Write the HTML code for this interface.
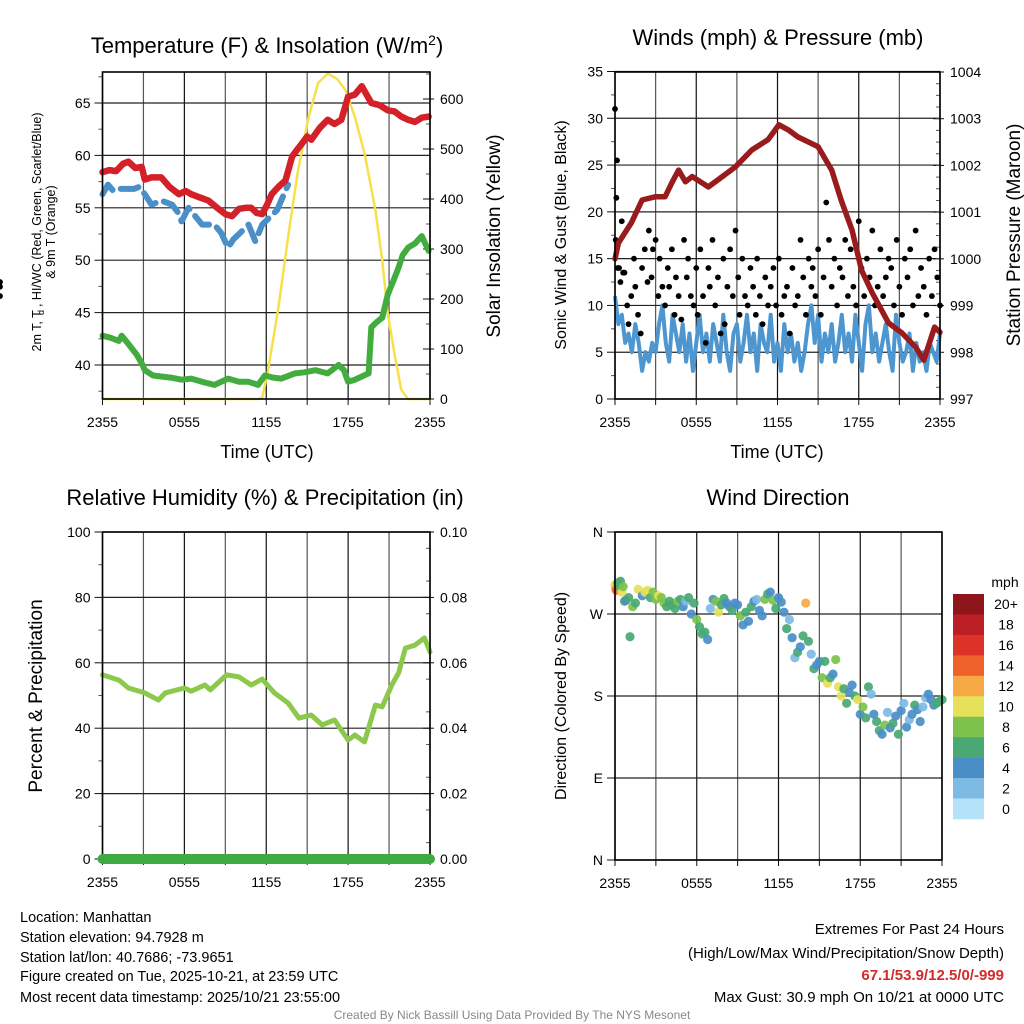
<!DOCTYPE html>
<html><head><meta charset="utf-8">
<style>
html,body{margin:0;padding:0;background:#fff;overflow:hidden;}
svg{display:block;font-family:"Liberation Sans",Arial,sans-serif;}
</style></head>
<body>
<svg id="fig" width="1024" height="1024" viewBox="0 0 1024 1024" xmlns="http://www.w3.org/2000/svg">
<g id="g1"></g>
<g id="g2"></g>
<g id="g3"></g>
<g id="g4"></g>
<text x="267" y="53" font-size="22" text-anchor="middle">Temperature (F) &amp; Insolation (W/m<tspan baseline-shift="super" font-size="14">2</tspan>)</text>
<text x="778" y="45" font-size="22" text-anchor="middle">Winds (mph) &amp; Pressure (mb)</text>
<text x="265" y="505" font-size="22" text-anchor="middle">Relative Humidity (%) &amp; Precipitation (in)</text>
<text x="778" y="505" font-size="22" text-anchor="middle">Wind Direction</text>
<text x="267" y="458" font-size="18" text-anchor="middle">Time (UTC)</text>
<text x="777" y="458" font-size="18" text-anchor="middle">Time (UTC)</text>
<g transform="translate(41,232) rotate(-90)">
<text x="0" y="0" font-size="12.5" text-anchor="middle">2m T, T  , HI/WC (Red, Green, Scarlet/Blue)</text>
<text x="-83" y="3" font-size="9">d</text>
</g>
<text transform="translate(55,232) rotate(-90)" font-size="12.5" text-anchor="middle">&amp; 9m T (Orange)</text>
<text transform="translate(500,236) rotate(-90)" font-size="19" text-anchor="middle">Solar Insolation (Yellow)</text>
<text transform="translate(566,235) rotate(-90)" font-size="16" text-anchor="middle">Sonic Wind &amp; Gust (Blue, Black)</text>
<text transform="translate(1020,235) rotate(-90)" font-size="19" text-anchor="middle">Station Pressure (Maroon)</text>
<text transform="translate(42,696) rotate(-90)" font-size="19" text-anchor="middle">Percent &amp; Precipitation</text>
<text transform="translate(566,696) rotate(-90)" font-size="16" text-anchor="middle">Direction (Colored By Speed)</text>
<text x="1005" y="587" font-size="14" text-anchor="middle">mph</text>
<g font-size="14.5">
<text x="20" y="922">Location: Manhattan</text>
<text x="20" y="942">Station elevation: 94.7928 m</text>
<text x="20" y="962">Station lat/lon: 40.7686; -73.9651</text>
<text x="20" y="981">Figure created on Tue, 2025-10-21, at 23:59 UTC</text>
<text x="20" y="1002">Most recent data timestamp: 2025/10/21 23:55:00</text>
</g>
<g font-size="15" text-anchor="end">
<text x="1004" y="934">Extremes For Past 24 Hours</text>
<text x="1004" y="958">(High/Low/Max Wind/Precipitation/Snow Depth)</text>
<text x="1004" y="980" fill="#d42a2a" font-weight="bold">67.1/53.9/12.5/0/-999</text>
<text x="1004" y="1002">Max Gust: 30.9 mph On 10/21 at 0000 UTC</text>
</g>
<text x="512" y="1019" font-size="12" fill="#888" text-anchor="middle">Created By Nick Bassill Using Data Provided By The NYS Mesonet</text>
</svg>
<script>
// ---------- data ----------
const xTickLabels = ["2355","0555","1155","1755","2355"];
const xTickHours = [0,6,12,18,24];
// Temperature (F)
const tempHours = [0,0.5,1.0,1.5,1.9,2.4,2.87,3.1,3.6,4.3,4.9,5.6,6.1,6.5,7.1,7.75,8.4,9.0,9.5,10.0,10.5,10.9,11.3,11.7,12.1,12.4,12.9,13.4,13.9,14.3,14.6,15.0,15.3,15.9,16.5,17.0,17.5,18.0,18.5,19.0,19.4,19.7,20.3,20.9,21.4,21.9,22.4,22.9,23.4,23.9];
const tempVals  = [58.4,58.6,58.5,59.2,59.4,58.8,58.9,57.7,57.9,57.9,57.0,56.3,56.6,56.3,56.0,55.7,55.0,54.4,54.2,54.9,55.0,55.0,54.5,54.4,55.4,56.3,57.0,57.6,59.9,60.6,61.1,61.8,61.5,62.6,63.4,63.0,63.4,65.6,65.8,66.6,65.7,65.0,64.8,64.3,64.2,63.7,63.4,63.2,63.6,63.7];
// Wind chill / HI (scarlet/blue)
const wcHours = [0,0.4,0.8,1.2,2.3,2.7,3.1,3.6,4.3,5.1,5.5,5.8,6.3,7.3,8.2,8.7,9.2,9.6,10.0,10.7,11.2,11.7,12.8,13.2,13.6];
const wcVals  = [56.3,57.2,56.6,56.8,56.8,57.0,56.3,55.3,55.7,55.3,54.6,53.7,55.0,53.4,53.4,52.6,51.2,52.0,52.5,53.4,51.8,53.4,54.8,56.0,57.2];
// Dewpoint
const dewHours = [0,0.6,1.2,1.4,1.9,2.5,2.9,3.1,3.7,4.3,5.0,5.8,6.5,7.3,8.2,9.2,10.0,10.7,11.4,11.9,12.5,13.1,14.1,14.8,15.6,16.5,17.3,17.7,18.0,18.5,19.0,19.5,19.7,20.1,20.5,20.9,21.3,21.7,22.0,22.4,22.9,23.4,23.9];
const dewVals  = [42.8,42.6,42.3,42.8,42.0,41.0,40.1,39.5,39.0,38.9,38.8,38.6,38.7,38.4,38.1,38.7,38.4,38.4,38.1,39.0,38.8,38.7,39.2,39.3,39.5,39.2,40.0,39.5,38.4,38.6,38.9,39.2,43.6,44.1,44.5,46.7,48.0,49.3,50.5,51.2,51.6,52.3,50.9];
// Solar insolation (W/m2)
const solHours = [0,11.4,11.7,12.1,12.9,13.6,14.3,15.1,15.8,16.5,17.2,17.8,18.5,19.2,20.0,20.5,20.9,21.4,21.9,22.4,24];
const solVals  = [0,0,3,52,184,324,452,564,632,651,640,618,564,492,378,278,172,90,18,0,0];
// Panel 2
const windVals = [11,8,9,6,7,5,8,6,3,5,4,6,5,8,10,6,4,9,7,5,8,4,7,3,6,9,5,7,4,8,6,4,9,5,3,7,8,4,6,9,5,7,3,8,6,5,9,4,6,3,8,5,7,4,6,3,5,8,10,6,9,4,7,5,8,4,6,9,5,7,4,9,6,3,8,10,5,7,4,6,8,5,3,9,6,4,5,7,3,6,4,5,3,6,5,4,7];
const gustHours = [0,0.05,0.1,0.15,0.2,0.3,0.4,0.5,0.6,0.7,0.9,1.0,1.2,1.4,1.5,1.7,1.9,2.0,2.2,2.4,2.5,2.7,2.8,3.0,3.2,3.3,3.5,3.7,3.9,4.0,4.2,4.4,4.5,4.7,4.9,5.1,5.3,5.4,5.6,5.8,6.0,6.1,6.3,6.5,6.7,6.9,7.0,7.2,7.4,7.6,7.8,8.0,8.1,8.3,8.5,8.7,8.9,9.1,9.2,9.4,9.6,9.8,10.0,10.2,10.4,10.5,10.7,10.9,11.1,11.3,11.5,11.7,11.9,12.1,12.3,12.5,12.7,12.9,13.1,13.3,13.5,13.7,13.9,14.1,14.3,14.5,14.6,14.8,15.0,15.2,15.4,15.6,15.8,16.0,16.2,16.4,16.6,16.8,17.0,17.2,17.4,17.6,17.8,18.0,18.2,18.4,18.6,18.8,19.0,19.2,19.4,19.6,19.8,20.0,20.2,20.4,20.6,20.8,21.0,21.2,21.4,21.6,21.8,22.0,22.2,22.4,22.6,22.8,23.0,23.2,23.4,23.6,23.8,24];
const gustVals  = [31,17,21.5,25.5,14,14,12.5,19,13.5,13.5,10,8,11,15,12,9,7,14,16,12.5,18,13,16,17,11,15,12,10,14,12,16,9,13,11,8.5,17,13,15,11,10,14,9,16,11,6,14,12,17,10,13,7,15,8,12,16,11,18,13,9,15,11,10,14,12,9,15,11,8,13,10,12,14,10,15,9,11,12,7,14,10,11,17,13,9,15,12,14,11,16,9,13,21,17,12,15,10,14,13,17,11,16,12,10,19,14,11,15,13,18,10,12,16,11,13,15,14,10,17,12,9,15,13,16,10,18,11,14,12,9,15,11,16,13,10,12,11,12.5];
const presHours = [0,0.25,1.2,2.0,3.0,3.7,4.2,4.7,5.2,5.7,6.9,7.6,8.9,10.1,11.3,12.1,12.8,13.5,15.0,16.0,16.7,17.5,18.2,19.0,20.2,21.2,22.2,22.8,23.6,24];
const presVals  = [1000.0,1000.34,1000.77,1001.26,1001.33,1001.33,1001.63,1001.9,1001.65,1001.76,1001.54,1001.69,1001.97,1002.33,1002.55,1002.87,1002.76,1002.61,1002.4,1001.9,1001.26,1000.62,999.76,999.27,998.63,998.41,998.11,997.83,998.54,998.43];
// Panel 3
const rhHours = [0,1.2,1.9,3.1,4.1,4.6,6.0,6.5,7.5,7.9,9.1,10.0,10.9,11.7,12.6,13.6,14.4,15.3,16.1,17.0,18.0,18.5,19.2,20.0,20.5,21.2,21.7,22.2,22.9,23.6,24];
const rhVals  = [56.3,54.7,52.3,50.8,48.6,50.8,52.3,51.3,53.2,51.7,56.3,55.7,53.2,55.0,50.8,47.7,43.1,44.0,41.0,42.5,36.4,37.9,35.8,47.1,46.5,53.2,56.9,64.5,65.4,67.6,63.3];
const precipHours = [0,24];
const precipVals = [0,0];
// Panel 4: direction (deg) and speed (mph)
const dirHours = [0,0.05,0.1,0.2,0.3,0.4,0.5,0.6,0.7,0.8,1.0,1.1,1.3,1.5,1.7,2.0,2.2,2.4,2.6,2.8,3.0,3.2,3.4,3.6,3.8,4.0,4.2,4.4,4.6,4.8,5.0,5.2,5.4,5.6,5.8,6.0,6.2,6.4,6.6,6.8,7.0,7.2,7.4,7.6,7.8,8.0,8.2,8.4,8.6,8.8,9.0,9.2,9.4,9.6,9.8,10.0,10.2,10.4,10.6,10.8,11.0,11.2,11.4,11.6,11.8,12.0,12.2,12.4,12.6,12.8,13.0,13.2,13.4,13.6,13.8,14.0,14.2,14.4,14.6,14.8,15.0,15.2,15.4,15.6,15.8,16.0,16.2,16.4,16.6,16.8,17.0,17.2,17.4,17.6,17.8,18.0,18.2,18.4,18.6,18.8,19.0,19.2,19.4,19.6,19.8,20.0,20.2,20.4,20.6,20.8,21.0,21.2,21.4,21.6,21.8,22.0,22.2,22.4,22.6,22.8,23.0,23.2,23.4,23.6,23.8,24];
const dirVals = [302,298,296,304,300,306,294,300,284,285,288,245,278,282,297,290,294,296,288,294,286,290,288,282,278,284,280,276,284,286,278,284,288,270,282,264,256,248,250,242,276,286,284,272,280,287,282,278,274,282,280,268,258,272,262,278,284,286,274,268,286,292,294,285,276,288,283,272,254,264,244,222,228,234,246,282,240,226,210,214,218,200,218,194,200,204,220,190,180,188,172,184,192,180,176,160,168,156,190,182,160,152,142,138,148,162,145,150,158,138,164,172,146,154,160,170,165,152,168,178,182,176,170,172,174,176];
const spdVals = [10,12,14,6,6,7,10,8,7,4,6,6,9,7,10,5,11,10,7,8,8,10,9,8,7,6,6,7,8,6,5,3,6,4,7,8,6,7,6,4,2,5,8,11,7,6,4,5,6,5,4,8,5,6,4,7,5,3,4,5,9,6,4,8,6,4,5,4,7,2,5,3,6,5,6,13,7,3,6,5,4,8,7,11,6,5,9,11,10,7,6,4,5,6,11,4,9,6,7,3,5,6,7,5,8,3,4,6,4,7,4,3,5,3,4,6,5,4,2,3,4,5,4,6,7,6];
const speedBins = ["0","2","4","6","8","10","12","14","16","18","20+"];
const speedColors = ["#b4e2f8","#7dbae4","#4a8ec7","#49a873","#7cc24b","#e5e15b","#f6a944","#ef622c","#dc3228","#bc1e25","#8e161a"];

// ---------- helpers ----------
const NS = "http://www.w3.org/2000/svg";
function mk(parent, tag, attrs){
  const e = document.createElementNS(NS, tag);
  for (const k in attrs) e.setAttribute(k, attrs[k]);
  parent.appendChild(e);
  return e;
}
function lin(d0,d1,r0,r1){ return v => r0 + (v-d0)/(d1-d0)*(r1-r0); }
function pathOf(xs, ys){ return xs.map((x,i)=>(i?"L":"M")+x.toFixed(1)+" "+ys[i].toFixed(1)).join(""); }

function panelFrame(g, L, R, T, B, xs, leftTicks, leftScale, leftLabels, leftMinor, rightTicks, rightScale, rightLabels, rightMinor){
  for (let h=0; h<=24; h+=3){
    const x = xs(h);
    const gl = mk(g,"line",{x1:x,x2:x,y1:T,y2:B,stroke:(h%6?"#555":"#111"),"stroke-width":1.2});
    
    
    const tk = mk(g,"line",{x1:x,x2:x,y1:B,y2:B+6,stroke:"#111","stroke-width":1});
    
    
  }
  leftTicks.forEach((v,i)=>{
    const y = leftScale(v);
    const gl = mk(g,"line",{x1:L,x2:R,y1:y,y2:y,stroke:"#222","stroke-width":1.2});
    
    
    const tk = mk(g,"line",{x1:L-8,x2:L,y1:y,y2:y,stroke:"#111","stroke-width":1});
    
    
    const t = mk(g,"text",{x:L-12,y:y+5,"font-size":14,"text-anchor":"end"});
    
    
    t.textContent = leftLabels[i];
  });
  leftMinor.forEach(v=>{
    const y = leftScale(v);
    const tk = mk(g,"line",{x1:L-4,x2:L,y1:y,y2:y,stroke:"#555","stroke-width":1});
    
    
  });
  rightTicks.forEach((v,i)=>{
    const y = rightScale(v);
    const tk = mk(g,"line",{x1:R-7,x2:R+4,y1:y,y2:y,stroke:"#111","stroke-width":1});
    
    
    const t = mk(g,"text",{x:R+10,y:y+5,"font-size":14,"text-anchor":"start"});
    
    
    t.textContent = rightLabels[i];
  });
  rightMinor.forEach(v=>{
    const y = rightScale(v);
    const tk = mk(g,"line",{x1:R-4,x2:R,y1:y,y2:y,stroke:"#555","stroke-width":1});
    
    
  });
  xTickHours.forEach((h,i)=>{
    const t = mk(g,"text",{x:xs(h),y:B+28,"font-size":14,"text-anchor":"middle"});
    
    
    t.textContent = xTickLabels[i];
  });
}
function frameBox(g,L,R,T,B){
  const f = mk(g,"rect",{x:L,y:T,width:R-L,height:B-T,fill:"none",stroke:"#000","stroke-width":1.6});
  
  
}
function range(a,b,s){const r=[];for(let v=a;v<=b+1e-9;v+=s)r.push(+v.toFixed(4));return r;}

// ---------- Panel 1 ----------
(function(){
  const g = document.getElementById("g1");
  const L=102.5,R=430,T=72,B=399;
  const xs = lin(0,24,L,R);
  const yT = lin(40,65,365,103);
  const yS = lin(0,600,399,99);
  panelFrame(g,L,R,T,B,xs,[40,45,50,55,60,65],yT,["40","45","50","55","60","65"],range(37.5,67.5,5),
    [0,100,200,300,400,500,600],yS,["0","100","200","300","400","500","600"],range(50,650,100));
  const sol = mk(g,"path",{d:pathOf(solHours.map(xs),solVals.map(yS)),fill:"none",stroke:"#f8e04a","stroke-width":2.5});
  
  
  const dew = mk(g,"path",{d:pathOf(dewHours.map(xs),dewVals.map(yT)),fill:"none",stroke:"#43ac3f","stroke-width":6,"stroke-linejoin":"round","stroke-linecap":"round"});
  
  
  const wc = mk(g,"path",{d:pathOf(wcHours.map(xs),wcVals.map(yT)),fill:"none",stroke:"#4a8fc8","stroke-width":6,"stroke-dasharray":"18 9","stroke-linejoin":"round","stroke-linecap":"round"});
  
  
  const tp = mk(g,"path",{d:pathOf(tempHours.map(xs),tempVals.map(yT)),fill:"none",stroke:"#d42029","stroke-width":6.5,"stroke-linejoin":"round","stroke-linecap":"round"});
  
  
  frameBox(g,L,R,T,B);
})();

// ---------- Panel 2 ----------
(function(){
  const g = document.getElementById("g2");
  const L=615,R=940,T=72,B=399;
  const xs = lin(0,24,L,R);
  const yW = lin(0,35,399,71.5);
  const yP = lin(997,1004,399,72);
  panelFrame(g,L,R,T,B,xs,[0,5,10,15,20,25,30,35],yW,["0","5","10","15","20","25","30","35"],range(2.5,32.5,5),
    [997,998,999,1000,1001,1002,1003,1004],yP,["997","998","999","1000","1001","1002","1003","1004"],range(997.25,1003.75,0.25));
  const wx = windVals.map((v,i)=>xs(i*24/(windVals.length-1)));
  const wl = mk(g,"path",{d:pathOf(wx,windVals.map(yW)),fill:"none",stroke:"#4e96d0","stroke-width":4,"stroke-linejoin":"round"});
  
  
  gustVals.forEach((v,i)=>{
    const c = mk(g,"circle",{cx:xs(gustHours[i]),cy:yW(v),r:2.9,fill:"#000"});
    
    
  });
  const pl = mk(g,"path",{d:pathOf(presHours.map(xs),presVals.map(yP)),fill:"none",stroke:"#981b1e","stroke-width":5.5,"stroke-linejoin":"round","stroke-linecap":"round"});
  
  
  frameBox(g,L,R,T,B);
})();

// ---------- Panel 3 ----------
(function(){
  const g = document.getElementById("g3");
  const L=102.5,R=430,T=532,B=859;
  const xs = lin(0,24,L,R);
  const yR = lin(0,100,859,532);
  const yPr = lin(0,0.1,859,532);
  panelFrame(g,L,R,T,B,xs,[0,20,40,60,80,100],yR,["0","20","40","60","80","100"],range(10,90,20),
    [0,0.02,0.04,0.06,0.08,0.1],yPr,["0.00","0.02","0.04","0.06","0.08","0.10"],range(0.005,0.095,0.01));
  const rl = mk(g,"path",{d:pathOf(rhHours.map(xs),rhVals.map(yR)),fill:"none",stroke:"#8cc84b","stroke-width":5,"stroke-linejoin":"round","stroke-linecap":"round"});
  
  
  frameBox(g,L,R,T,B);
  const pr = mk(g,"path",{d:pathOf(precipHours.map(xs),precipVals.map(yPr)),fill:"none",stroke:"#3faa41","stroke-width":10,"stroke-linecap":"round"});
  
  
})();

// ---------- Panel 4 ----------
(function(){
  const g = document.getElementById("g4");
  const L=615,R=942,T=532,B=860;
  const xs = lin(0,24,L,R);
  const yD = lin(0,360,860,532);
  panelFrame(g,L,R,T,B,xs,[0,90,180,270,360],yD,["N","E","S","W","N"],[],[],yD,[],[]);
  function colorFor(s){ let i=Math.floor(s/2); if(i>10)i=10; if(i<0)i=0; return speedColors[i]; }
  dirVals.forEach((d,i)=>{
    const c = mk(g,"circle",{cx:xs(dirHours[i]),cy:yD(d),r:4.6,fill:colorFor(spdVals[i]),"fill-opacity":0.92});
    
    
  });
  frameBox(g,L,R,T,B);
  const cbT=594, cbH=225/11;
  for (let k=0;k<11;k++){
    const idx = 10-k;
    const r = mk(g,"rect",{x:953,y:cbT+k*cbH,width:31,height:cbH+0.3,fill:speedColors[idx]});
    
    
    const t = mk(g,"text",{x:1006,y:cbT+k*cbH+cbH/2+5,"font-size":14,"text-anchor":"middle"});
    
    
    t.textContent = speedBins[idx];
  }
})();
</script>
</body></html>
